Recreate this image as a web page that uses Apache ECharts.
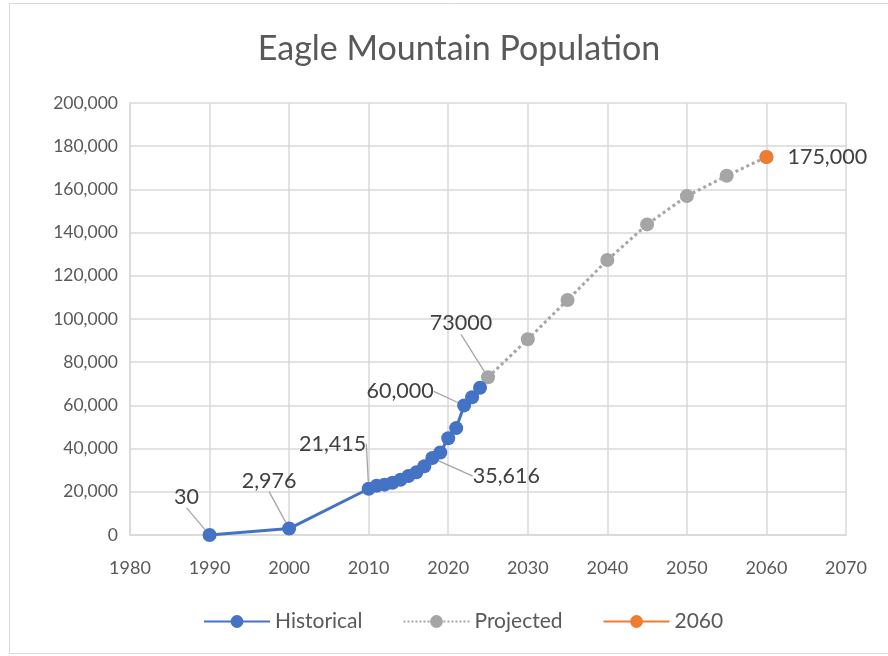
<!DOCTYPE html>
<html>
<head>
<meta charset="utf-8">
<script src="https://cdn.jsdelivr.net/npm/echarts@6/dist/echarts.min.js"></script>
<style>
html,body{margin:0;padding:0;background:#fff;}
#c{width:888px;height:656px;}
</style>
</head>
<body>
<div id="c"></div>
<script>
// ---- data ----
const histYears = [1990, 2000, 2010, 2011, 2012, 2013, 2014, 2015, 2016, 2017, 2018, 2019, 2020, 2021, 2022, 2023, 2024];
const histPop   = [30, 2976, 21415, 22800, 23300, 24200, 25600, 27300, 29000, 31800, 35616, 38200, 44800, 49500, 60000, 63800, 68200];
const projYears = [2025, 2030, 2035, 2040, 2045, 2050, 2055, 2060];
const projPop   = [73000, 90600, 108800, 127300, 143800, 156900, 166300, 175000];
const finalYears = [2060];
const finalPop   = [175000];
const histLabeled = [1990, 2000, 2010, 2018, 2022];
const projLabeled = [2025];
const xTicks = { min: 1980, max: 2070, interval: 10 };
const yTicks = { min: 0, max: 200000, interval: 20000 };

// ---- styling (label offsets relative to the point) ----
const labelOffsets = {
  1990: [-23, -38],
  2000: [-20, -48],
  2010: [-36, -45],
  2018: [74, 18],
  2022: [-64, -14],
  2025: [-27, -54]
};
const FONT = 'Lato';
const TXT = '#595959';
const LBL = '#404040';
const BLUE = '#4472C4', GRAY = '#A5A5A5', ORANGE = '#ED7D31';

const fmt = v => v.toLocaleString('en-US');

function mkData(years, vals, labeled) {
  return years.map((y, i) => ({ value: [y, vals[i]], label: { show: labeled.indexOf(y) >= 0 } }));
}

function layoutFor(years) {
  return function (p) {
    const y = years[p.dataIndex];
    const o = labelOffsets[y];
    if (!o) return {};
    return { dx: o[0], dy: o[1] };
  };
}

const labelBase = {
  position: 'inside',
  fontFamily: FONT, fontSize: 21.5, color: LBL
};
const labelLine = { show: true, lineStyle: { color: '#A6A6A6', width: 1.3 }, smooth: false };

const chart = echarts.init(document.getElementById('c'));
chart.setOption({
  animation: false,
  backgroundColor: '#fff',
  textStyle: { fontFamily: FONT },
  graphic: [{
    type: 'rect', silent: true, z: -10,
    shape: { x: 9.5, y: 3.5, width: 900, height: 650 },
    style: { fill: 'none', stroke: '#D9D9D9', lineWidth: 1 }
  }],
  title: {
    text: 'Eagle Mountain Population',
    left: 454, top: 27, textAlign: 'center',
    textStyle: { fontFamily: FONT, fontSize: 34, fontWeight: 'normal', color: TXT }
  },
  grid: { left: 130, right: 42, top: 103, bottom: 121 },
  xAxis: {
    type: 'value', min: xTicks.min, max: xTicks.max, interval: xTicks.interval,
    axisLine: { show: true, lineStyle: { color: '#D9D9D9', width: 1.5 } },
    axisTick: { show: false },
    splitLine: { show: true, lineStyle: { color: '#D9D9D9', width: 1.5 } },
    axisLabel: { color: TXT, fontFamily: FONT, fontSize: 18, margin: 24, formatter: v => String(v) }
  },
  yAxis: {
    type: 'value', min: yTicks.min, max: yTicks.max, interval: yTicks.interval,
    axisLine: { show: true, lineStyle: { color: '#D9D9D9', width: 1.5 } },
    axisTick: { show: false },
    splitLine: { show: true, lineStyle: { color: '#D9D9D9', width: 1.5 } },
    axisLabel: { color: TXT, fontFamily: FONT, fontSize: 17.5, margin: 12, formatter: v => fmt(v) }
  },
  legend: {
    bottom: 19, left: 198,
    itemWidth: 66, itemHeight: 16, itemGap: 40,
    textStyle: { color: TXT, fontFamily: FONT, fontSize: 21 },
    data: ['Historical', 'Projected', '2060']
  },
  series: [
    {
      name: 'Projected', type: 'line',
      data: mkData(projYears, projPop, projLabeled),
      symbol: 'circle', symbolSize: 14,
      itemStyle: { color: GRAY },
      lineStyle: { color: GRAY, width: 3, type: 'dotted' },
      label: Object.assign({}, labelBase, { formatter: p => String(p.value[1]) }),
      labelLine: labelLine,
      labelLayout: layoutFor(projYears),
      z: 2
    },
    {
      name: 'Historical', type: 'line',
      data: mkData(histYears, histPop, histLabeled),
      symbol: 'circle', symbolSize: 14,
      itemStyle: { color: BLUE },
      lineStyle: { color: BLUE, width: 3 },
      label: Object.assign({}, labelBase, { formatter: p => fmt(p.value[1]) }),
      labelLine: labelLine,
      labelLayout: layoutFor(histYears),
      z: 3
    },
    {
      name: '2060', type: 'line',
      data: finalYears.map((y, i) => [y, finalPop[i]]),
      symbol: 'circle', symbolSize: 14,
      itemStyle: { color: ORANGE },
      lineStyle: { color: ORANGE, width: 3 },
      label: { show: true, position: 'right', distance: 14, fontFamily: FONT, fontSize: 21.5, color: LBL,
               formatter: p => fmt(p.value[1]) },
      z: 4
    }
  ]
});
</script>
</body>
</html>
